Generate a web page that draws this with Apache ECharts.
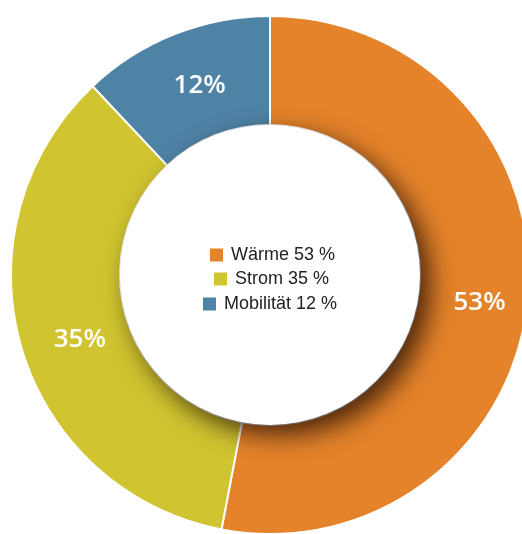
<!DOCTYPE html>
<html><head><meta charset="utf-8">
<script src="https://cdn.jsdelivr.net/npm/echarts@6/dist/echarts.min.js"></script>
<style>html,body{margin:0;padding:0;background:#fff}#c{width:522px;height:534px}</style>
</head><body><div id="c"></div>
<script>
const categories = ['Wärme', 'Strom', 'Mobilität'];
const values = [53, 35, 12];
const colors = ['#E5832A', '#D0C430', '#4F83A6'];

const chart = echarts.init(document.getElementById('c'), null, {renderer: 'canvas'});
const cx = 270, cy = 275;
const legendPos = [[210, 246], [214, 270], [203, 295]];
const labelOffsets = [[3, 8], [9, 7], [6, 4]];
const legends = categories.map((name, i) => ({
  data: [name],
  left: legendPos[i][0], top: legendPos[i][1],
  padding: 0, itemWidth: 13, itemHeight: 13, icon: 'rect',
  itemStyle: {borderWidth: 0},
  selectedMode: false,
  formatter: n => n + ' ' + values[i] + ' %',
  textStyle: {fontFamily: 'Liberation Sans', fontSize: 18, color: '#222', padding: [0, 0, 0, 3]},
  z: 10
}));

chart.setOption({
  animation: false,
  color: colors,
  legend: legends,
  graphic: [{
    type: 'circle', z: 5,
    shape: {cx: cx, cy: cy, r: 150},
    style: {fill: '#fff', shadowBlur: 26, shadowOffsetX: 10, shadowOffsetY: 10, shadowColor: 'rgba(20,5,0,0.75)'}
  }],
  series: [{
    type: 'pie',
    center: [cx, cy],
    radius: [150, 259],
    startAngle: 90,
    clockwise: true,
    z: 2,
    itemStyle: {borderColor: '#fff', borderWidth: 2},
    label: {
      show: true, position: 'inside',
      formatter: p => p.value + '%',
      color: '#fff', fontFamily: 'Open Sans', fontWeight: 600, fontSize: 26
    },
    labelLine: {show: false},
    emphasis: {disabled: true},
    data: categories.map((n, i) => ({name: n, value: values[i], label: {offset: labelOffsets[i]}}))
  }]
});
</script></body></html>
